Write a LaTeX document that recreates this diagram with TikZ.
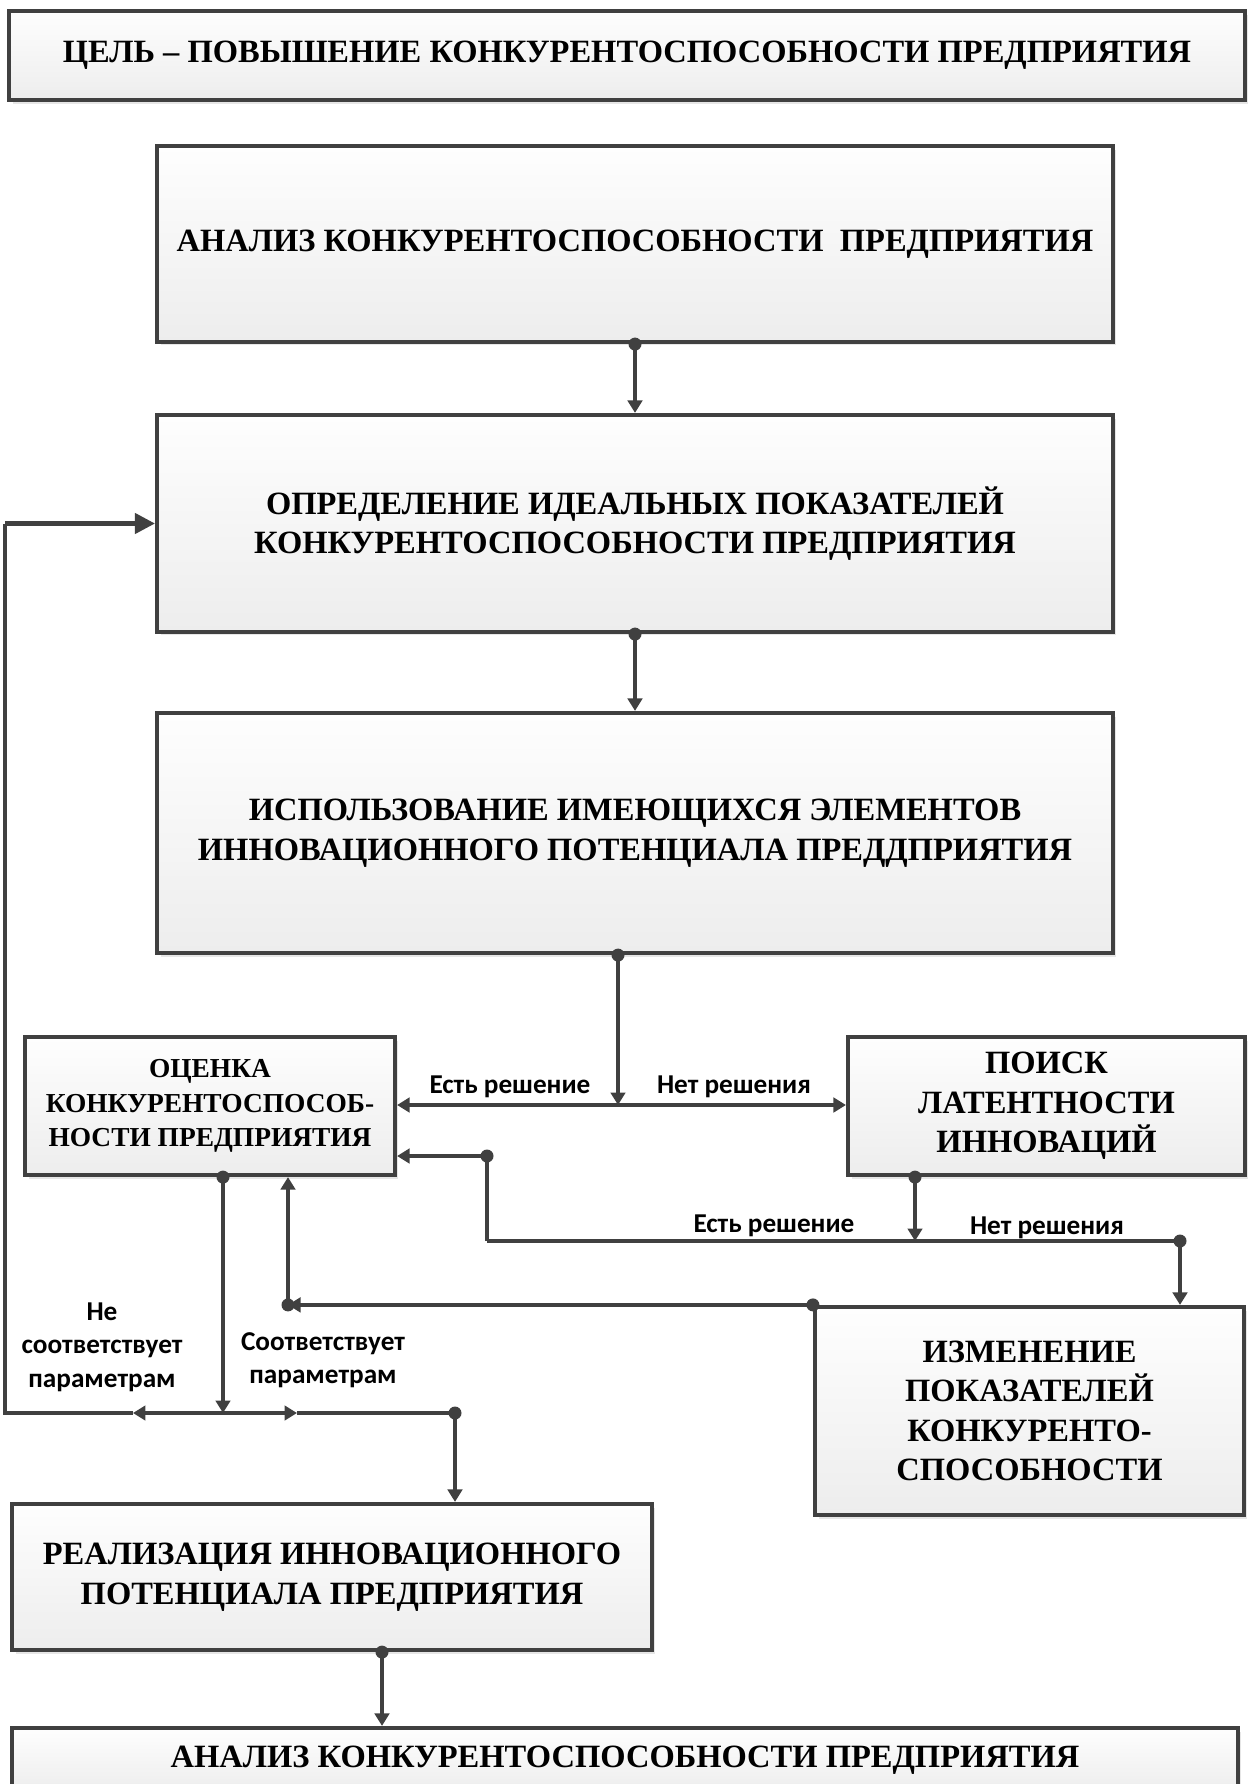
\documentclass[tikz,border=0pt]{standalone}
\usepackage{fontspec}
\setmainfont{Liberation Serif}
\newfontfamily\lblfont{Carlito}
\usepackage{tikz}
\usetikzlibrary{positioning,arrows.meta,calc,shadows}
\definecolor{lnclr}{RGB}{64,64,64}
\definecolor{boxtop}{RGB}{254,254,254}
\definecolor{boxbot}{RGB}{237,237,237}
\tikzset{
  blk/.style={draw=lnclr, line width=2.4pt, top color=boxtop, bottom color=boxbot,
              drop shadow={opacity=0.2, shadow xshift=2pt, shadow yshift=-2pt},
              align=center, inner sep=2pt,
              font=\fontsize{18.5}{22.5}\selectfont\bfseries},
  smallblk/.style={blk, font=\fontsize{15.6}{19.8}\selectfont\bfseries},
  lbl/.style={font=\lblfont\fontsize{15.5}{19}\selectfont\bfseries, align=center, inner sep=0pt},
  ln/.style={draw=lnclr, line width=2.4pt},
  conn/.style={ln, -{Triangle[length=2.5mm, width=2.9mm]}},
  bigconn/.style={ln, -{Triangle[length=4mm, width=4mm]}},
  dot/.style={circle, fill=lnclr, inner sep=0pt, minimum size=2.6mm}
}
\begin{document}
\begin{tikzpicture}[x=0.02cm, y=-0.02cm]
\useasboundingbox (0,0) rectangle (1252,1784);
\node[blk, minimum width=24.72cm, minimum height=1.78cm] (goal) at (627,55.5) {ЦЕЛЬ – ПОВЫШЕНИЕ КОНКУРЕНТОСПОСОБНОСТИ ПРЕДПРИЯТИЯ};
\node[blk, minimum width=19.12cm, minimum height=3.92cm] (anl) at (635,244) {АНАЛИЗ КОНКУРЕНТОСПОСОБНОСТИ\ \ ПРЕДПРИЯТИЯ};
\node[blk, minimum width=19.12cm, minimum height=4.34cm] (ideal) at (635,523.5) {ОПРЕДЕЛЕНИЕ ИДЕАЛЬНЫХ ПОКАЗАТЕЛЕЙ\\ КОНКУРЕНТОСПОСОБНОСТИ ПРЕДПРИЯТИЯ};
\node[blk, minimum width=19.12cm, minimum height=4.8cm] (use) at (635,833) {ИСПОЛЬЗОВАНИЕ ИМЕЮЩИХСЯ ЭЛЕМЕНТОВ\\ ИННОВАЦИОННОГО ПОТЕНЦИАЛА ПРЕДДПРИЯТИЯ};
\node[smallblk, minimum width=7.4cm, minimum height=2.76cm] (est) at (210,1106) {ОЦЕНКА\\ КОНКУРЕНТОСПОСОБ-\\ НОСТИ ПРЕДПРИЯТИЯ};
\node[blk, minimum width=7.94cm, minimum height=2.76cm] (srch) at (1046.5,1106) {ПОИСК\\ ЛАТЕНТНОСТИ\\ ИННОВАЦИЙ};
\node[blk, minimum width=8.58cm, minimum height=4.16cm] (chg) at (1029.5,1411) {ИЗМЕНЕНИЕ\\ ПОКАЗАТЕЛЕЙ\\ КОНКУРЕНТО-\\ СПОСОБНОСТИ};
\node[blk, minimum width=12.8cm, minimum height=2.92cm] (real) at (332,1577) {РЕАЛИЗАЦИЯ ИННОВАЦИОННОГО\\ ПОТЕНЦИАЛА ПРЕДПРИЯТИЯ};
\node[blk, minimum width=24.52cm, minimum height=1.28cm] (anl2) at (625,1760) {АНАЛИЗ КОНКУРЕНТОСПОСОБНОСТИ ПРЕДПРИЯТИЯ};

\coordinate (j1) at (618,1105);
\coordinate (j2) at (915,1241);
\coordinate (k1) at (487,1156);
\coordinate (k2) at (487,1241);
\coordinate (k3) at (1180,1241);
\coordinate (m1) at (288,1307);
\coordinate (j3) at (223,1413);
\coordinate (n1) at (133,1413);
\coordinate (n0) at (5,1413);
\coordinate (n2) at (297,1413);
\coordinate (n3) at (455,1413);
\coordinate (g1) at (382,1700);

\draw[conn] (anl.south) node[dot]{} -- (ideal.north);
\draw[conn] (ideal.south) node[dot]{} -- (use.north);
\draw[conn] (use.south -| j1) node[dot]{} -- (j1);
\draw[conn] (j1) -- (j1 -| est.east);
\draw[conn] (j1) -- (j1 -| srch.west);
\draw[conn] (srch.south -| j2) node[dot]{} -- (j2);
\draw[ln] (k2) -- (k3);
\draw[conn] (k2) -- (k1) node[dot]{} -- (k1 -| est.east);
\draw[conn] (k3) node[dot]{} -- (k3 |- chg.north);
\draw[conn] (chg.north west) node[dot]{} -- (chg.north west -| m1);
\draw[conn] (chg.north west -| m1) node[dot]{} -- (m1 |- est.south);
\draw[conn] (est.south -| j3) node[dot]{} -- (j3);
\draw[conn] (j3) -- (n1);
\draw[ln] (n1) -- (n0) -- (n0 |- ideal.west);
\draw[bigconn] (n0 |- ideal.west) -- (ideal.west);
\draw[conn] (j3) -- (n2);
\draw[ln] (n2) -- (n3);
\draw[conn] (n3) node[dot]{} -- (n3 |- real.north);
\draw[conn] (real.south -| g1) node[dot]{} -- (anl2.north -| g1);

\node[lbl, anchor=base] (yes1) at (510,1093) {Есть решение};
\node[lbl, anchor=base] (no1) at (734,1093) {Нет решения};
\node[lbl, anchor=base] (yes2) at (774,1232) {Есть решение};
\node[lbl, anchor=base] (no2) at (1047,1234) {Нет решения};
\node[lbl] (bad) at (102,1347) {Не\\ соответствует\\ параметрам};
\node[lbl] (good) at (323,1360) {Соответствует\\ параметрам};
\end{tikzpicture}
\end{document}
